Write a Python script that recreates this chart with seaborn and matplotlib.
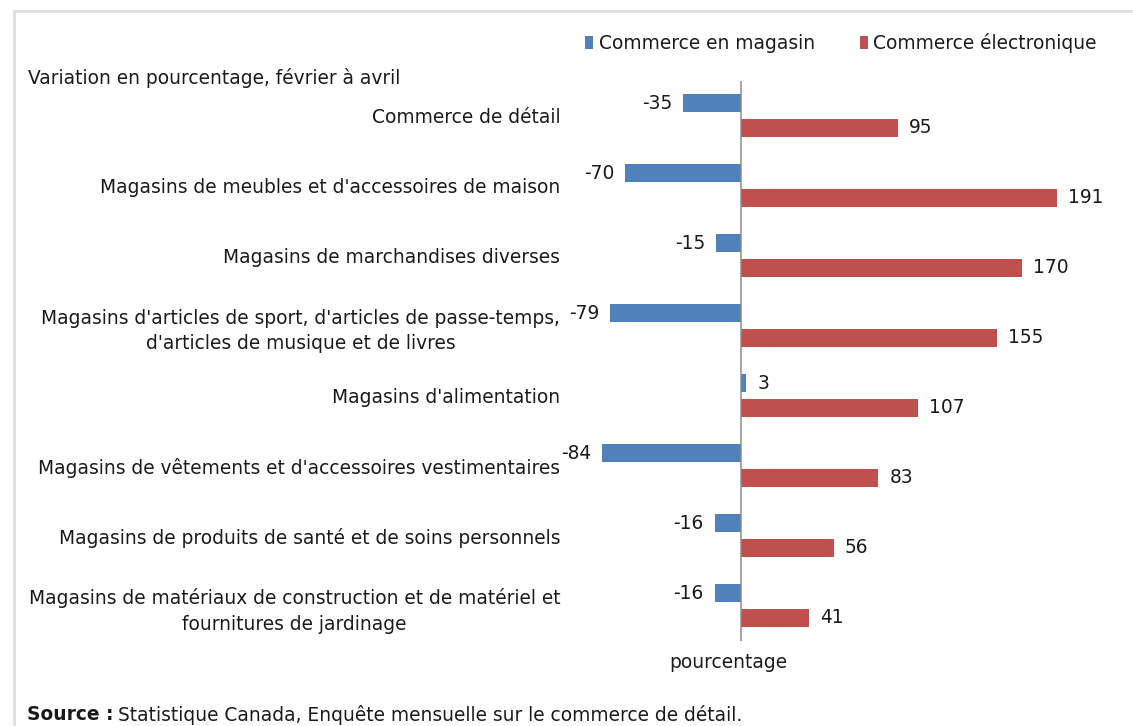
import matplotlib
matplotlib.use("Agg")
import matplotlib.pyplot as plt
from matplotlib.lines import Line2D
from matplotlib.patches import Patch
import seaborn as sns
import pandas as pd

# Retail categories (top to bottom) and percentage change, February to April
categories = [
    "Commerce de détail",
    "Magasins de meubles et d'accessoires de maison",
    "Magasins de marchandises diverses",
    "Magasins d'articles de sport, d'articles de passe-temps,\nd'articles de musique et de livres",
    "Magasins d'alimentation",
    "Magasins de vêtements et d'accessoires vestimentaires",
    "Magasins de produits de santé et de soins personnels",
    "Magasins de matériaux de construction et de matériel et\nfournitures de jardinage",
]
series_names = ["Commerce en magasin", "Commerce électronique"]
en_magasin = [-35, -70, -15, -79, 3, -84, -16, -16]
electronique = [95, 191, 170, 155, 107, 83, 56, 41]

title_text = "Variation en pourcentage, février à avril"
axis_label = "pourcentage"
source_label = "Source :"
source_text = "Statistique Canada, Enquête mensuelle sur le commerce de détail."

colors = {"Commerce en magasin": "#4F81BD", "Commerce électronique": "#C0504D"}

df = pd.DataFrame({
    "categorie": categories * 2,
    "serie": [series_names[0]] * len(categories) + [series_names[1]] * len(categories),
    "valeur": en_magasin + electronique,
})

sns.set_theme(style="white")
plt.rcParams["font.family"] = ["DejaVu Sans"]
FS = 13.4
TXT = "#1A1A1A"

W, H = 1133, 726
fig = plt.figure(figsize=(W / 100, H / 100), dpi=100)
ax = fig.add_axes([575.6 / W, 1 - 640.5 / H, 496.2 / W, 560 / H])

sns.barplot(
    data=df, y="categorie", x="valeur", hue="serie", orient="h",
    hue_order=series_names, order=categories, palette=colors,
    width=0.686, gap=0.25, saturation=1, legend=False, ax=ax,
    linewidth=0, edgecolor="none",
)

ax.set_xlim(-100, 200)
ax.set_ylim(7.5, -0.5)
ax.axvline(0, color="#8C8C8C", lw=1.1, zorder=3)
for s in ax.spines.values():
    s.set_visible(False)
ax.set_xticks([])
ax.set_xlabel("")
ax.set_ylabel("")
ax.tick_params(axis="y", length=0, pad=11, labelsize=FS, labelcolor=TXT)
for lbl in ax.get_yticklabels():
    lbl.set_horizontalalignment("right")
    lbl.set_multialignment("center")
    lbl.set_linespacing(1.45)

for cont in ax.containers:
    ax.bar_label(cont, fmt="%d", padding=8, fontsize=FS, color=TXT)

# Legend across the top
handles = [Patch(facecolor=colors[n], edgecolor="none") for n in series_names]
fig.legend(handles, series_names, loc="center left",
           bbox_to_anchor=(568 / W, 1 - 43 / H), ncol=2, frameon=False,
           fontsize=FS, handlelength=0.45, handleheight=0.7, handletextpad=0.3,
           columnspacing=2.4, labelcolor=TXT)

fig.text(28 / W, 1 - 78 / H, title_text, ha="left", va="center",
         fontsize=FS, color=TXT)
fig.text(728 / W, 1 - 663 / H, axis_label, ha="center", va="center",
         fontsize=FS, color=TXT)
t = fig.text(27 / W, 1 - 715 / H, source_label, ha="left", va="center",
             fontsize=FS, fontweight="bold", color=TXT)
fig.canvas.draw()
bb = t.get_window_extent()
fig.text(bb.x1 / W + 4 / W, 1 - 715 / H, source_text, ha="left", va="center",
         fontsize=FS, color=TXT)

# Thin grey frame along the top and left edges
fig.add_artist(Line2D([14 / W, 14 / W], [0, 1 - 11 / H], color="#DDDDDD", lw=2,
                      transform=fig.transFigure))
fig.add_artist(Line2D([14 / W, 1], [1 - 11 / H, 1 - 11 / H], color="#DDDDDD", lw=2,
                      transform=fig.transFigure))

fig.savefig("out.png", dpi=100, facecolor="white")
